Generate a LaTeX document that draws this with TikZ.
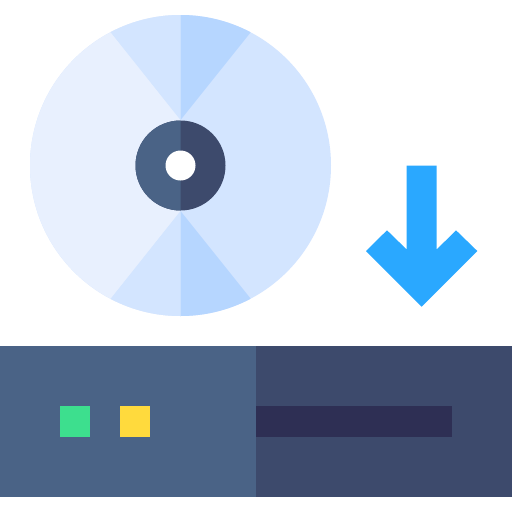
\documentclass[tikz,border=0pt]{standalone}
\definecolor{discL}{HTML}{E8F0FE}
\definecolor{discM}{HTML}{D3E5FF}
\definecolor{discD}{HTML}{B6D6FF}
\definecolor{hubL}{HTML}{4A6386}
\definecolor{hubD}{HTML}{3D4A6C}
\definecolor{slot}{HTML}{2E2F54}
\definecolor{arrowc}{HTML}{2AA8FF}
\definecolor{greenc}{HTML}{3DDF8E}
\definecolor{yellowc}{HTML}{FFDA3D}
\begin{document}
\begin{tikzpicture}[x=1pt,y=-1pt]
\useasboundingbox (0,0) rectangle (512,512);
\fill[white] (0,0) rectangle (512,512);
\coordinate (c) at (180.5,165.5);
\def\R{150.5pt}
% disc
\fill[discM] (c) circle[radius=\R];
\begin{scope}
\clip (180.5,0) rectangle (0,512);
\fill[discL] (c) circle[radius=\R];
\end{scope}
\begin{scope}
\clip (c) circle[radius=\R];
\fill[discM] (180.5,120) -- (110.7,32.3) -- (110.7,0) -- (180.5,0) -- cycle;
\fill[discD] (180.5,120) -- (250.7,32.3) -- (250.7,0) -- (180.5,0) -- cycle;
\fill[discM] (180.5,211) -- (110.7,298.7) -- (110.7,330) -- (180.5,330) -- cycle;
\fill[discD] (180.5,211) -- (250.7,298.7) -- (250.7,330) -- (180.5,330) -- cycle;
\end{scope}
% hub
\fill[hubD] (c) circle[radius=45pt];
\begin{scope}
\clip (180.5,0) rectangle (0,512);
\fill[hubL] (c) circle[radius=45pt];
\end{scope}
\fill[white] (c) circle[radius=15pt];
% arrow
\fill[arrowc] (406.7,165.5) -- (436.7,165.5) -- (436.7,249.5) -- (456,230.3) -- (477.3,251) -- (421.7,306.7) -- (366,251) -- (387,230.3) -- (406.7,249.5) -- cycle;
% box
\fill[hubL] (0,346.2) rectangle (256,496.8);
\fill[hubD] (256,346.2) rectangle (512,496.8);
\fill[slot] (256,406.3) rectangle (452,436.5);
\fill[greenc] (60,406.3) rectangle (90.2,436.5);
\fill[yellowc] (120.2,406.3) rectangle (150.4,436.5);
\end{tikzpicture}
\end{document}
